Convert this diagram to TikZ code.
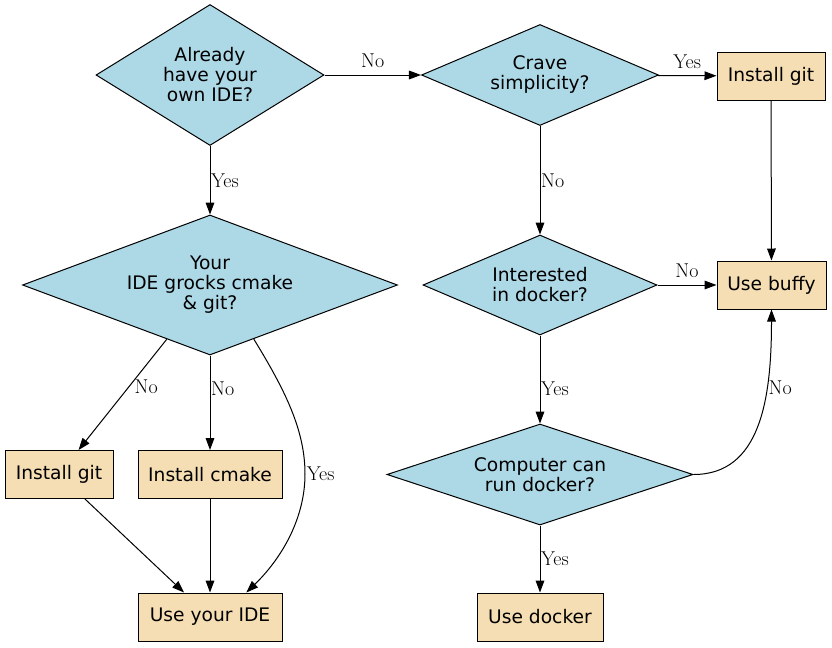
\documentclass[tikz,border=0pt]{standalone}
\usepackage{fontspec}
\newfontfamily\nodefont{DejaVu Sans}
\usetikzlibrary{shapes.geometric,arrows.meta}
\definecolor{dlblue}{HTML}{ADD8E6}
\definecolor{dwheat}{HTML}{F5DEB3}
\begin{document}
\begin{tikzpicture}[x=0.75pt,y=-0.75pt,
  decision/.style={diamond, draw=black, fill=dlblue, line width=0.75pt, inner sep=0pt,
    font=\nodefont\fontsize{14}{15}\selectfont, align=center},
  action/.style={rectangle, draw=black, fill=dwheat, line width=0.75pt, inner sep=0pt,
    minimum height=36pt, font=\nodefont\fontsize{14}{15}\selectfont},
  lbl/.style={font=\fontsize{15}{16}\selectfont, inner sep=1pt},
  arr/.style={-{Triangle[length=9pt,width=6.5pt]}, line width=0.75pt}]
\useasboundingbox (0,0) rectangle (832,647);
% decisions
\node[decision, aspect=1.62, minimum width=171pt, minimum height=105.75pt] (D1) at (210,75) {Already\\have your\\own IDE?};
\node[decision, aspect=2.35, minimum width=177.75pt, minimum height=75.75pt] (D2) at (540,75) {Crave\\simplicity?};
\node[decision, aspect=2.68, minimum width=281.25pt, minimum height=105pt] (D3) at (210,285) {Your\\IDE grocks cmake\\\& git?};
\node[decision, aspect=2.34, minimum width=175.5pt, minimum height=75pt] (D4) at (540,285) {Interested\\in docker?};
\node[decision, aspect=3.05, minimum width=229.5pt, minimum height=75.75pt] (D5) at (540,474.5) {Computer can\\run docker?};
% actions
\node[action, minimum width=81pt] (B1) at (771,76) {Install git};
\node[action, minimum width=81.75pt] (B2) at (771.5,285) {Use buffy};
\node[action, minimum width=81pt] (B3) at (59,474.5) {Install git};
\node[action, minimum width=108pt] (B4) at (210,474.5) {Install cmake};
\node[action, minimum width=108pt] (B5) at (210,617) {Use your IDE};
\node[action, minimum width=94.5pt] (B6) at (540,617) {Use docker};
% connectors
\draw[arr] (D1) -- node[lbl, above=4pt] {No} (D2);
\draw[arr] (D2) -- node[lbl, above=4pt] {Yes} (B1);
\draw[arr] (D1) -- node[lbl, right, inner sep=0.5pt] {Yes} (D3);
\draw[arr] (D2) -- node[lbl, right, inner sep=0.5pt] {No} (D4);
\draw[arr] (B1) -- (B2);
\draw[arr] (D4) -- node[lbl, above=4pt] {No} (B2);
\draw[arr] (D4) -- node[lbl, right, inner sep=0.5pt, pos=0.6] {Yes} (D5);
\draw[arr] (D5) -- node[lbl, right, inner sep=0.5pt, pos=0.49] {Yes} (B6);
\draw[arr] (D5.east) .. controls (760,474.5) and (771.5,400) .. node[lbl, right, pos=0.69] {No} (B2.south);
\draw[arr] (D3) -- node[lbl, right=3pt, pos=0.43] {No} (B3);
\draw[arr] (D3) -- node[lbl, right, inner sep=0.5pt, pos=0.35] {No} (B4);
\draw[arr] (D3.-51) .. controls (285,390) and (305,430) .. (305,474) node[lbl, right] {Yes}
   .. controls (305,520) and (280,560) .. (B5.34);
\draw[arr] (B3) -- (B5);
\draw[arr] (B4) -- (B5);
\end{tikzpicture}
\end{document}
